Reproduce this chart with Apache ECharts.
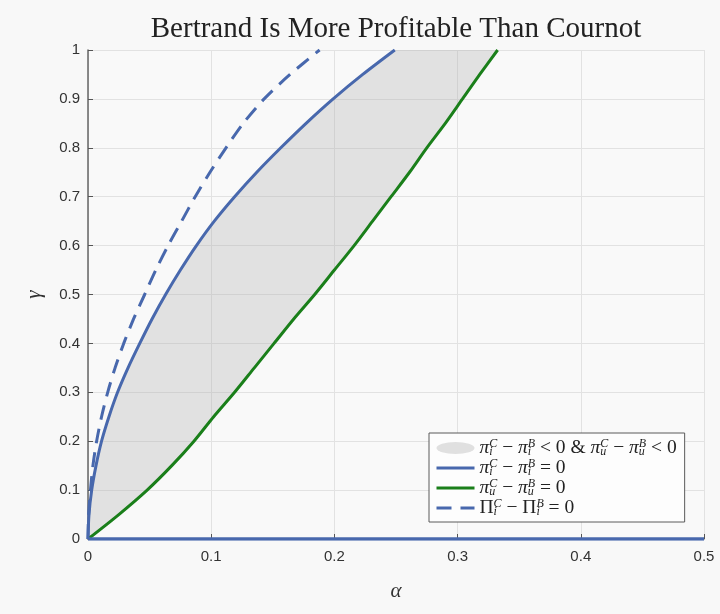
<!DOCTYPE html>
<html>
<head>
<meta charset="utf-8">
<script src="https://cdn.jsdelivr.net/npm/echarts@6/dist/echarts.min.js"></script>
<style>
  html, body { margin: 0; padding: 0; background: #f8f8f8; }
  #chart { width: 720px; height: 614px; }
</style>
</head>
<body>
<div id="chart"></div>
<script>
// gamma levels (y) at which the alpha (x) positions of each curve were read
const gammaLevels = [0, 0.05, 0.1, 0.15, 0.2, 0.25, 0.3, 0.35, 0.4, 0.45, 0.5, 0.55, 0.6, 0.65, 0.7, 0.75, 0.8, 0.85, 0.9, 0.95, 1.0];
// pi_i^C - pi_i^B = 0  (solid blue)
const alphaPiI = [0, 0.0008, 0.003, 0.0065, 0.011, 0.017, 0.024, 0.0325, 0.042, 0.052, 0.063, 0.075, 0.088, 0.1025, 0.119, 0.137, 0.1565, 0.177, 0.199, 0.223, 0.249];
// pi_u^C - pi_u^B = 0  (green)
const alphaPiU = [0, 0.025, 0.048, 0.068, 0.086, 0.102, 0.119, 0.135, 0.151, 0.167, 0.184, 0.2, 0.216, 0.231, 0.246, 0.261, 0.275, 0.29, 0.304, 0.318, 0.3325];
// Pi_i^C - Pi_i^B = 0  (dashed blue)
const alphaBigPiI = [0, 0.0005, 0.002, 0.004, 0.007, 0.011, 0.016, 0.022, 0.029, 0.037, 0.046, 0.055, 0.065, 0.076, 0.087, 0.099, 0.112, 0.126, 0.143, 0.164, 0.188];
// gamma = 0 branch of pi_i^C - pi_i^B = 0
const bottomAlpha = [0, 0.5];
const bottomGamma = [0, 0];

const titleText = 'Bertrand Is More Profitable Than Cournot';
const xName = 'α';
const yName = 'γ';

const piIPts = gammaLevels.map((g, i) => [alphaPiI[i], g]);
const piUPts = gammaLevels.map((g, i) => [alphaPiU[i], g]);
const bigPiIPts = gammaLevels.map((g, i) => [alphaBigPiI[i], g]);
const bottomPts = bottomAlpha.map((a, i) => [a, bottomGamma[i]]);
const regionPts = piIPts.concat(piUPts.slice().reverse());

const BLUE = '#4868ad';
const GREEN = '#1a7f1a';
const SERIF = '"Liberation Serif", "DejaVu Serif", serif';
const ELLIPSE_ICON = 'path://M0,1 A1,1 0 1,1 2,1 A1,1 0 1,1 0,1 Z';

function sym(base, sub, sup, baseStyle) {
  return '{' + (baseStyle || 'm') + '|' + base + '}{sb|' + sub + '}{sp|' + sup + '}';
}
const legendLabels = {
  region: sym('π', 'i', 'C') + '{n| − }' + sym('π', 'i', 'B') + '{n| < 0 & }' +
          sym('π', 'u', 'C') + '{n| − }' + sym('π', 'u', 'B') + '{n| < 0}',
  piI: sym('π', 'i', 'C') + '{n| − }' + sym('π', 'i', 'B') + '{n| = 0}',
  piU: sym('π', 'u', 'C') + '{n| − }' + sym('π', 'u', 'B') + '{n| = 0}',
  bigPiI: sym('Π', 'i', 'C', 'n') + '{n| − }' + sym('Π', 'i', 'B', 'n') + '{n| = 0}'
};

const chart = echarts.init(document.getElementById('chart'), null, { renderer: 'canvas' });
chart.setOption({
  backgroundColor: '#f8f8f8',
  animation: false,
  title: {
    text: titleText,
    left: 396,
    textAlign: 'center',
    top: 15,
    padding: 0,
    textStyle: { fontFamily: SERIF, fontSize: 29, fontWeight: 'normal', color: '#222' }
  },
  grid: { left: 88, right: 16, top: 50, bottom: 75, show: true, backgroundColor: '#f9f9f9', borderWidth: 0 },
  xAxis: {
    type: 'value', min: 0, max: 0.5, interval: 0.1,
    name: xName, nameLocation: 'middle', nameGap: 42,
    nameTextStyle: { fontFamily: SERIF, fontStyle: 'italic', fontSize: 21, color: '#333' },
    axisLine: { show: true, lineStyle: { color: '#666', width: 1.5 } },
    axisTick: { show: true, inside: true, length: 5, lineStyle: { color: '#555' } },
    axisLabel: { margin: 10, fontFamily: '"Liberation Sans", Arial, sans-serif', fontSize: 15, color: '#333',
      formatter: v => String(v) },
    splitLine: { show: true, lineStyle: { color: '#e2e2e2', width: 1 } }
  },
  yAxis: {
    type: 'value', min: 0, max: 1, interval: 0.1,
    name: yName, nameLocation: 'middle', nameGap: 43, nameRotate: 90,
    nameTextStyle: { fontFamily: SERIF, fontStyle: 'italic', fontSize: 21, color: '#333' },
    axisLine: { show: true, lineStyle: { color: '#666', width: 1.5 } },
    axisTick: { show: true, inside: true, length: 5, lineStyle: { color: '#555' } },
    axisLabel: { margin: 8, fontFamily: '"Liberation Sans", Arial, sans-serif', fontSize: 15, color: '#333',
      formatter: v => String(v) },
    splitLine: { show: true, lineStyle: { color: '#e2e2e2', width: 1 } }
  },
  legend: {
    orient: 'vertical',
    left: 429, top: 433,
    padding: [5, 8, 4, 6],
    itemGap: 0,
    itemWidth: 38, itemHeight: 12,
    symbolKeepAspect: false,
    backgroundColor: '#fdfdfd',
    borderColor: '#5a5a5a', borderWidth: 1, borderRadius: 0,
    lineStyle: { width: 3 },
    data: [
      { name: 'region', icon: ELLIPSE_ICON, itemStyle: { color: '#e0e0e0' } },
      { name: 'piI', itemStyle: { opacity: 0 } },
      { name: 'piU', itemStyle: { opacity: 0 } },
      { name: 'bigPiI', itemStyle: { opacity: 0 } }
    ],
    formatter: name => legendLabels[name],
    textStyle: {
      color: '#222',
      rich: {
        m: { fontFamily: SERIF, fontStyle: 'italic', fontSize: 19.5, lineHeight: 19.5, color: '#222' },
        n: { fontFamily: SERIF, fontSize: 19.5, lineHeight: 19.5, color: '#222' },
        sb: { fontFamily: SERIF, fontStyle: 'italic', fontSize: 12, lineHeight: 9, verticalAlign: 'bottom', width: 0, color: '#222' },
        sp: { fontFamily: SERIF, fontStyle: 'italic', fontSize: 12, lineHeight: 11, verticalAlign: 'top', color: '#222' }
      }
    }
  },
  series: [
    {
      name: 'region',
      type: 'custom',
      data: regionPts,
      encode: { x: 0, y: 1 },
      itemStyle: { color: '#e0e0e0' },
      z: 1,
      renderItem: function (params, api) {
        if (params.dataIndex !== 0) return null;
        const pts = regionPts.map(p => api.coord(p));
        return {
          type: 'polygon',
          shape: { points: pts },
          style: { fill: 'rgba(170,170,170,0.3)', stroke: null }
        };
      }
    },
    {
      name: 'piI', type: 'line', data: piIPts, symbol: 'none', smooth: 0.3, z: 3,
      itemStyle: { color: BLUE },
      lineStyle: { color: BLUE, width: 3 }
    },
    {
      name: 'piI', type: 'line', data: bottomPts, symbol: 'none', z: 4,
      itemStyle: { color: BLUE },
      lineStyle: { color: BLUE, width: 3.5 }
    },
    {
      name: 'piU', type: 'line', data: piUPts, symbol: 'none', smooth: 0.3, z: 3,
      itemStyle: { color: GREEN },
      lineStyle: { color: GREEN, width: 3 }
    },
    {
      name: 'bigPiI', type: 'line', data: bigPiIPts, symbol: 'none', smooth: 0.3, z: 3,
      itemStyle: { color: BLUE },
      lineStyle: { color: BLUE, width: 3, type: [15, 9] }
    }
  ]
});
</script>
</body>
</html>
